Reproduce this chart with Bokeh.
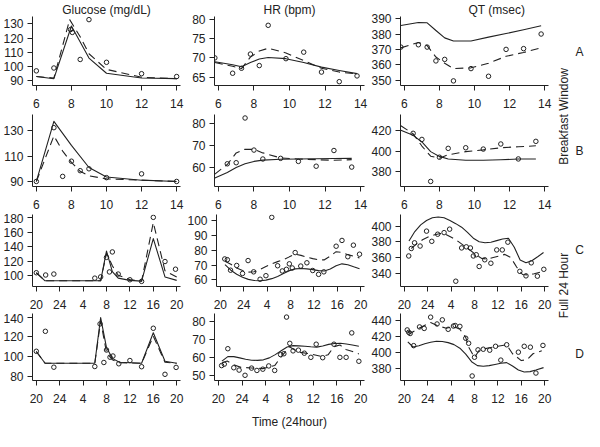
from bokeh.plotting import figure
from bokeh.models import Range1d, FixedTicker
from bokeh.layouts import row, column
from bokeh.embed import file_html
from bokeh.resources import INLINE
from bokeh.core.properties import value

FONT = "Liberation Sans"
INK = "#222222"

# ---------------- tick labels ----------------
bw_ticks = [6, 8, 10, 12, 14]
day_ticks = [20, 24, 28, 32, 36, 40, 44]
day_tick_labels = ["20", "24", "4", "8", "12", "16", "20"]

col_titles = ["Glucose (mg/dL)", "HR (bpm)", "QT (msec)"]
row_letters = ["A", "B", "C", "D"]
window_labels = ["Breakfast Window", "Full 24 Hour"]
x_title = "Time (24hour)"

# ---------------- Row A : breakfast window ----------------
glu_a_obs_x = [6, 7, 7.95, 8.05, 8.5, 9, 10, 12, 14]
glu_a_obs_y = [97, 99, 126, 124, 105, 133, 103, 95, 93]
glu_a_sol_x = [6, 7, 8, 9, 10, 12, 14]
glu_a_sol_y = [93, 91.5, 128.5, 106, 95.3, 92, 91.5]
glu_a_das_x = [6, 7, 7.9, 8.5, 9, 10, 12, 14]
glu_a_das_y = [93, 92, 133, 121, 109, 98, 92.5, 91.5]

hr_a_obs_x = [5.8, 6.8, 7.3, 7.8, 8.3, 8.8, 9.8, 10.8, 11.8, 12.8, 13.8]
hr_a_obs_y = [70, 66, 67.3, 71, 68, 78.5, 69.8, 71.5, 66.3, 63.8, 65.3]
hr_a_sol_x = [5.8, 6.8, 7.3, 7.8, 8.3, 8.8, 9.8, 10.8, 11.8, 12.8, 13.8]
hr_a_sol_y = [69, 68.2, 67.7, 68.8, 69.7, 70.1, 69.8, 68.8, 67.6, 66.7, 65.9]
hr_a_das_x = [5.8, 6.8, 7.3, 7.8, 8.3, 8.8, 9.8, 10.8, 11.8, 12.8, 13.8]
hr_a_das_y = [68.8, 67.8, 67.2, 70.2, 71.8, 72.5, 71.3, 69.3, 67.3, 66.3, 65.8]

qt_a_obs_x = [5.8, 6.8, 7.3, 7.8, 8.3, 8.8, 9.8, 10.8, 11.8, 12.8, 13.8]
qt_a_obs_y = [371.5, 373, 371.5, 362.5, 363.5, 349.5, 357.5, 352.5, 370, 370.5, 380]
qt_a_sol_x = [5.8, 6.8, 7.3, 7.8, 8.3, 8.8, 9.8, 10.8, 11.8, 12.8, 13.8]
qt_a_sol_y = [385.5, 387.5, 387.3, 382.3, 377.5, 375.5, 375.5, 378, 380.3, 382.8, 385.4]
qt_a_das_x = [5.8, 6.8, 7.3, 7.8, 8.3, 8.8, 9.8, 10.8, 11.8, 12.8, 13.8]
qt_a_das_y = [371, 374.5, 372.5, 365, 361, 357.5, 358, 361, 365.5, 368, 371]

# ---------------- Row B : breakfast window ----------------
glu_b_obs_x = [6, 7, 7.5, 8, 8.5, 9, 10, 12, 14]
glu_b_obs_y = [90, 132.5, 94, 106, 98.5, 100, 93, 96, 90]
glu_b_sol_x = [6, 7, 8, 9, 10, 12, 14]
glu_b_sol_y = [90, 137.5, 118.5, 101, 93.5, 91, 90]
glu_b_das_x = [6, 7, 7.5, 8, 8.5, 9, 10, 12, 14]
glu_b_das_y = [90, 126, 114, 105, 98, 94.5, 92, 91, 90]

hr_b_obs_x = [6.5, 7, 7.5, 8, 8.5, 9.5, 10.5, 11.5, 12.5, 13.5]
hr_b_obs_y = [61.5, 62, 82.5, 67.8, 63.7, 64, 62.6, 60.4, 67.6, 60]
hr_b_sol_x = [5.8, 6.5, 7, 7.5, 8, 8.5, 9.5, 10.5, 11.5, 12.5, 13.5]
hr_b_sol_y = [55, 57.5, 59.8, 61.5, 62.6, 63.2, 63.6, 63.7, 63.8, 63.9, 64]
hr_b_das_x = [5.8, 6.5, 7, 7.5, 8, 8.5, 9.5, 10.5, 11.5, 12.5, 13.5]
hr_b_das_y = [56.8, 61.2, 66.5, 68.2, 68.1, 66.5, 64.2, 63.7, 63.4, 63.1, 63.4]

qt_b_obs_x = [6.5, 7, 7.5, 8, 8.5, 9.5, 10.5, 11.5, 12.5, 13.5]
qt_b_obs_y = [417.5, 411.5, 370.2, 394, 402.7, 403.3, 402, 407, 392.3, 409.6]
qt_b_sol_x = [5.8, 6.5, 7, 7.5, 8, 8.5, 9.5, 10.5, 11.5, 12.5, 13.5]
qt_b_sol_y = [420.5, 415.5, 409, 399.5, 394.8, 392.3, 391, 391, 391.5, 392.2, 392.3]
qt_b_das_x = [5.8, 6.5, 7, 7.5, 8, 8.5, 9.5, 10.5, 11.5, 12.5, 13.5]
qt_b_das_y = [425, 417, 405, 395, 393, 396.4, 399.5, 401.2, 403.3, 404.3, 405.2]

# ---------------- Row C : full 24 hour (hours after 20:00 => 20..44) ----------------
glu_c_obs_x = [20, 21.6, 23, 30, 31, 32, 32.5, 33, 34, 36, 38, 40, 42, 43.8]
glu_c_obs_y = [104.4, 101.3, 102.6, 97, 98.7, 125.4, 105.5, 132.8, 102.6, 94.8, 92.6, 180, 119.7, 109.2]
glu_c_sol_x = [20, 21.5, 31, 32, 33, 34, 36, 38, 40, 42, 44]
glu_c_sol_y = [104.4, 93.4, 93.4, 134, 106, 97, 94, 93, 151, 98.7, 94]
glu_c_das_x = [20, 21.5, 31, 32, 33, 34, 36, 38, 40, 42, 44]
glu_c_das_y = [104.4, 93.4, 93.4, 131, 114, 101, 95, 93, 173, 107, 98.5]

hr_c_obs_x = [20.76, 21.2, 21.75, 22.8, 23.8, 24.75, 25.7, 26.8, 27.8, 28.8, 29.8, 30.6, 31.3,
              31.8, 32.3, 32.8, 33.75, 34.8, 35.8, 36.8, 37.7, 39.8, 40.8, 41.8, 42.75, 43.8]
hr_c_obs_y = [74.1, 73.6, 66.5, 69.7, 64.3, 73, 65.4, 60.4, 62.8, 102.2, 69.5, 66, 67.1,
              70.8, 68, 78.4, 69.3, 71.5, 66.3, 63.7, 65.4, 82.7, 86.6, 75.6, 83.4, 77.3]
hr_c_sol_x = [20.8, 21.8, 22.8, 23.8, 24.8, 25.8, 26.8, 27.8, 28.8, 29.8, 30.8, 31.8,
              32.8, 33.8, 34.8, 35.8, 36.8, 37.8, 38.8, 39.8, 40.8, 41.8, 42.8, 43.8]
hr_c_sol_y = [70.2, 66.5, 63.8, 61.8, 60.3, 59.6, 59.4, 59.8, 60.8, 62.3, 64.2, 66.2,
              67.4, 67.6, 67.4, 66.9, 66.2, 66, 67.3, 69.5, 70.8, 70.2, 68.8, 67.5]
hr_c_das_x = [20.8, 21.8, 22.8, 23.8, 24.8, 25.8, 26.8, 27.8, 28.8, 29.8, 30.8, 31.8,
              32.8, 33.8, 34.8, 35.8, 36.8, 37.8, 38.8, 39.8, 40.8, 41.8, 42.8, 43.8]
hr_c_das_y = [72.5, 70.5, 68, 66.3, 65.2, 65.5, 67, 69, 70.8, 72.3, 73.5, 75.5,
              77.3, 76.5, 75.3, 74.3, 73.5, 73.5, 76, 79, 78.5, 77, 76, 74.8]

qt_c_obs_x = [20.76, 21.2, 21.75, 22.7, 23.8, 24.7, 25.7, 26.8, 27.75, 28.8, 29.8, 30.6, 31.3,
              31.8, 32.3, 32.8, 33.75, 34.8, 35.8, 36.75, 37.7, 39.75, 40.8, 41.7, 42.75, 43.85]
qt_c_obs_y = [362, 371.5, 378.7, 374.6, 393.5, 380.6, 389.6, 391.6, 396, 330, 372.2, 373.6, 372.2,
              362, 363.6, 348.7, 357.2, 352.8, 369.7, 369.7, 379.5, 342.5, 336.8, 353.3, 336.4, 345.1]
qt_c_sol_x = [20.8, 21.8, 22.8, 23.8, 24.8, 25.8, 26.8, 27.8, 28.8, 29.8, 30.8, 31.8,
              32.8, 33.8, 34.8, 35.8, 36.8, 37.8, 38.8, 39.8, 40.8, 41.8, 42.8, 43.8]
qt_c_sol_y = [381, 393, 401.5, 407, 410.5, 411.5, 410.5, 407, 403, 398.5, 392, 384.5,
              380, 378.7, 379.5, 381.5, 383.5, 384.5, 373, 357, 353.5, 356, 361, 366.4]
qt_c_das_x = [21.2, 22.2, 23.2, 24.2, 25.2, 26.2, 27.2, 28.2, 29.2, 30.2, 31.2, 32.2,
              33.2, 34.2, 35.2, 36.2, 37.2, 38.2, 39.2, 40.2, 41.2, 42.2, 43.2, 43.8]
qt_c_das_y = [371.5, 378, 383, 386.5, 389, 390.5, 389, 385, 380.5, 375, 369.5, 364,
              359, 358, 360, 362, 364, 360, 348, 338.5, 338, 339.5, 341.5, 344.5]

# ---------------- Row D : full 24 hour ----------------
glu_d_obs_x = [20, 21.55, 23, 30, 30.9, 31.55, 32, 32.6, 33.1, 34.1, 36, 38, 40, 42, 43.9]
glu_d_obs_y = [105.2, 125.5, 89, 89.7, 133, 93.8, 106.5, 99.2, 100.4, 92.5, 95.8, 89.5, 128.6, 81.8, 88.8]
glu_d_sol_x = [20, 21.5, 30, 31, 32, 33, 34.2, 38, 40, 42, 44]
glu_d_sol_y = [105, 93, 93, 139.5, 109, 98, 94, 93, 124, 95, 93]
glu_d_das_x = [20, 21.5, 30, 31, 32, 33, 34.2, 38, 40, 42, 44]
glu_d_das_y = [105, 93, 93, 136, 104, 96.5, 93.5, 93, 120.5, 94, 93]

hr_d_obs_x = [20.55, 21, 21.6, 22.6, 23.5, 24.5, 25.6, 26.5, 27.5, 28.5, 29.5, 30.5, 31.05,
              31.5, 32.05, 32.6, 33.5, 34.5, 35.6, 36.5, 37.6, 39.5, 40.5, 41.55, 42.5, 43.7]
hr_d_obs_y = [55.5, 56.3, 64.9, 54.3, 53, 50.1, 54.1, 52.8, 53.5, 55.3, 52.8, 61.6, 62.1,
              82.5, 67.9, 63.7, 64.1, 62.4, 60.1, 67.4, 59.9, 67.4, 60.1, 60.1, 73.7, 57.9]
hr_d_sol_x = [20.6, 21.6, 22.6, 23.6, 24.6, 25.6, 26.6, 27.6, 28.6, 29.6, 30.6, 31.6,
              32.6, 33.6, 34.6, 35.6, 36.6, 37.6, 38.6, 39.6, 40.6, 41.6, 42.6, 43.7]
hr_d_sol_y = [58, 60.5, 60.5, 59.8, 59, 58.5, 58.4, 58.7, 59.8, 61.6, 63.8, 65.8,
              66.6, 66.5, 66.3, 66, 65.8, 66.4, 67.3, 67.8, 67.9, 67.5, 67, 66.3]
hr_d_das_x = [20.6, 21.5, 22.6, 23.8, 25.6, 27.5, 29.5, 30.5, 31.5, 32, 33.5, 35.5, 37.5,
              38.5, 39.5, 40.5, 41.5, 42.5, 43.7]
hr_d_das_y = [57, 58, 56, 54.5, 54.2, 53.8, 55.5, 60, 64, 66, 63, 62, 60.5,
              61.5, 66, 67, 64.5, 63.5, 62]

qt_d_obs_x = [20.5, 20.76, 21.0, 21.6, 22.6, 23.4, 24.5, 25.6, 26.5, 27.5, 28.4, 28.7, 29.5, 30.5,
              31.0, 31.6, 32.0, 32.6, 33.5, 34.6, 35.6, 36.5, 37.5, 39.5, 40.5, 41.55, 42.5, 43.7]
qt_d_obs_y = [428, 425, 423.5, 408.2, 431.8, 429.9, 444.1, 435.5, 440.7, 428.8, 432.9, 433.6, 432.5, 417.5,
              411.2, 370, 393.6, 402.9, 403.7, 402.5, 407.4, 390, 409.3, 400, 407.4, 406.3, 373.7, 408.5]
qt_d_sol_x = [20.6, 21.5, 22.5, 23.5, 24.5, 25.5, 26.5, 27.5, 28.5, 29.5, 30.5, 31.5,
              32.5, 33.5, 34.5, 35.5, 36.5, 37.5, 38.5, 39.5, 40.5, 41.5, 42.5, 43.8]
qt_d_sol_y = [413, 406.5, 408, 410.5, 412.5, 413.8, 413.5, 412, 409.5, 405, 397.5, 388,
              383, 382.3, 383, 384.5, 386, 386.8, 382.5, 377.5, 375, 375.5, 377.5, 380.5]
qt_d_das_x = [20.6, 21.0, 22.5, 24.5, 25.6, 27.2, 28.4, 29.5, 30.5, 31.0, 32.0, 32.8,
              34.5, 36.0, 37.5, 38.5, 40.0, 41.0, 42.0, 43.5]
qt_d_das_y = [426, 423.5, 430, 437.4, 433.6, 430, 432.5, 428.8, 418.7, 406.3, 393.2, 402.5,
              405.5, 407.4, 409.3, 398, 389.4, 390.6, 398, 401.8]

# ---------------- axis extents and y ticks ----------------
bw_xlim = (5.78, 14.22)
day_xlim = (19.35, 44.65)

glu_a_ylim, glu_a_yticks = (86.7, 135.2), [90, 100, 110, 120, 130]
hr_a_ylim, hr_a_yticks = (62.8, 80.8), [65, 70, 75, 80]
qt_a_ylim, qt_a_yticks = (346.5, 391.4), [350, 360, 370, 380, 390]
glu_b_ylim, glu_b_yticks = (86.0, 142.9), [90, 110, 130]
hr_b_ylim, hr_b_yticks = (51.1, 84.1), [60, 70, 80]
qt_b_ylim, qt_b_yticks = (365.2, 436.0), [380, 400, 420]
glu_c_ylim, glu_c_yticks = (85.6, 183.9), [100, 120, 140, 160, 180]
hr_c_ylim, hr_c_yticks = (55.5, 104.1), [60, 70, 80, 90, 100]
qt_c_ylim, qt_c_yticks = (323.3, 414.6), [340, 360, 380, 400]
glu_d_ylim, glu_d_yticks = (75.5, 143.6), [80, 100, 120, 140]
hr_d_ylim, hr_d_yticks = (47.2, 84.5), [50, 60, 70, 80]
qt_d_ylim, qt_d_yticks = (364.3, 448.7), [380, 400, 420, 440]

# ---------------- layout (px) ----------------
FIG_W = 184
ROW_H = [112, 101, 100, 118]
TOP_B = [14, 2, 1, 0]
BOT_B = [27, 27, 27, 46]
SIDE_W = 32
TOTAL_H = sum(ROW_H)


def style_axes(p, xticks, xoverrides, yticks):
    for ax in (p.xaxis[0], p.yaxis[0]):
        ax.axis_line_color = INK
        ax.axis_line_width = 1
        ax.major_tick_line_color = INK
        ax.major_tick_in = 0
        ax.major_tick_out = 5
        ax.minor_tick_line_color = None
        ax.major_label_text_font = FONT
        ax.major_label_text_font_size = "12px"
        ax.major_label_text_color = INK
    p.xaxis[0].ticker = FixedTicker(ticks=xticks)
    if xoverrides:
        p.xaxis[0].major_label_overrides = xoverrides
    p.xaxis[0].major_label_standoff = 8
    p.yaxis[0].ticker = FixedTicker(ticks=yticks)
    p.yaxis[0].major_label_standoff = 4
    p.xgrid.visible = False
    p.ygrid.visible = False


def make_panel(r, xlim, xticks, xoverrides, ylim, yticks, obs, sol, das):
    p = figure(width=FIG_W, height=ROW_H[r], output_backend="svg", toolbar_location=None,
               x_range=Range1d(*xlim), y_range=Range1d(*ylim),
               min_border_left=30, min_border_right=4,
               min_border_top=TOP_B[r], min_border_bottom=BOT_B[r])
    p.outline_line_color = None
    p.background_fill_color = "white"
    p.border_fill_color = "white"
    style_axes(p, xticks, xoverrides, yticks)
    p.line(sol[0], sol[1], line_color=INK, line_width=1.1, line_join="round")
    p.line(das[0], das[1], line_color=INK, line_width=1.1, line_dash="8 5", line_join="round")
    p.scatter(obs[0], obs[1], marker="circle", size=4.5, fill_color=None,
              line_color=INK, line_width=1)
    return p


day_over = {t: lab for t, lab in zip(day_ticks, day_tick_labels)}

panels = [
    [make_panel(0, bw_xlim, bw_ticks, None, glu_a_ylim, glu_a_yticks,
                (glu_a_obs_x, glu_a_obs_y), (glu_a_sol_x, glu_a_sol_y), (glu_a_das_x, glu_a_das_y)),
     make_panel(0, bw_xlim, bw_ticks, None, hr_a_ylim, hr_a_yticks,
                (hr_a_obs_x, hr_a_obs_y), (hr_a_sol_x, hr_a_sol_y), (hr_a_das_x, hr_a_das_y)),
     make_panel(0, bw_xlim, bw_ticks, None, qt_a_ylim, qt_a_yticks,
                (qt_a_obs_x, qt_a_obs_y), (qt_a_sol_x, qt_a_sol_y), (qt_a_das_x, qt_a_das_y))],
    [make_panel(1, bw_xlim, bw_ticks, None, glu_b_ylim, glu_b_yticks,
                (glu_b_obs_x, glu_b_obs_y), (glu_b_sol_x, glu_b_sol_y), (glu_b_das_x, glu_b_das_y)),
     make_panel(1, bw_xlim, bw_ticks, None, hr_b_ylim, hr_b_yticks,
                (hr_b_obs_x, hr_b_obs_y), (hr_b_sol_x, hr_b_sol_y), (hr_b_das_x, hr_b_das_y)),
     make_panel(1, bw_xlim, bw_ticks, None, qt_b_ylim, qt_b_yticks,
                (qt_b_obs_x, qt_b_obs_y), (qt_b_sol_x, qt_b_sol_y), (qt_b_das_x, qt_b_das_y))],
    [make_panel(2, day_xlim, day_ticks, day_over, glu_c_ylim, glu_c_yticks,
                (glu_c_obs_x, glu_c_obs_y), (glu_c_sol_x, glu_c_sol_y), (glu_c_das_x, glu_c_das_y)),
     make_panel(2, day_xlim, day_ticks, day_over, hr_c_ylim, hr_c_yticks,
                (hr_c_obs_x, hr_c_obs_y), (hr_c_sol_x, hr_c_sol_y), (hr_c_das_x, hr_c_das_y)),
     make_panel(2, day_xlim, day_ticks, day_over, qt_c_ylim, qt_c_yticks,
                (qt_c_obs_x, qt_c_obs_y), (qt_c_sol_x, qt_c_sol_y), (qt_c_das_x, qt_c_das_y))],
    [make_panel(3, day_xlim, day_ticks, day_over, glu_d_ylim, glu_d_yticks,
                (glu_d_obs_x, glu_d_obs_y), (glu_d_sol_x, glu_d_sol_y), (glu_d_das_x, glu_d_das_y)),
     make_panel(3, day_xlim, day_ticks, day_over, hr_d_ylim, hr_d_yticks,
                (hr_d_obs_x, hr_d_obs_y), (hr_d_sol_x, hr_d_sol_y), (hr_d_das_x, hr_d_das_y)),
     make_panel(3, day_xlim, day_ticks, day_over, qt_d_ylim, qt_d_yticks,
                (qt_d_obs_x, qt_d_obs_y), (qt_d_sol_x, qt_d_sol_y), (qt_d_das_x, qt_d_das_y))],
]

# column titles
for j, txt in enumerate(col_titles):
    t = panels[0][j].title
    t.text = txt
    t.text_font = FONT
    t.text_font_size = "12px"
    t.text_font_style = "normal"
    t.text_color = INK
    t.standoff = 0
    if j < 2:
        t.align = "center"
    else:
        t.align = "left"
        t.offset = 68

# bottom axis title
mid = panels[3][1].xaxis[0]
mid.axis_label = x_title
mid.axis_label_text_font = FONT
mid.axis_label_text_font_size = "12px"
mid.axis_label_text_font_style = "normal"
mid.axis_label_text_color = INK
mid.axis_label_standoff = 9

# side strip with row labels
side = figure(width=SIDE_W, height=TOTAL_H, output_backend="svg", toolbar_location=None,
              x_range=Range1d(0, SIDE_W), y_range=Range1d(0, TOTAL_H),
              x_axis_location=None, y_axis_location=None,
              min_border_left=0, min_border_right=0, min_border_top=0, min_border_bottom=0)
side.outline_line_color = None
side.xgrid.visible = False
side.ygrid.visible = False
side.border_fill_color = "white"
side.background_fill_color = "white"

letter_x = [27, 27, 27, 27]
letter_y = [TOTAL_H - 51, TOTAL_H - 150, TOTAL_H - 249, TOTAL_H - 353]
side.text(x=letter_x, y=letter_y, text=row_letters, text_align="center",
          text_baseline="middle", text_font=value(FONT), text_font_size="12px", text_color=INK)
side.text(x=[11.8, 11.8], y=[TOTAL_H - 116, TOTAL_H - 285], text=window_labels,
          angle=1.5707963, text_align="center", text_baseline="middle",
          text_font=value(FONT), text_font_size="12px", text_color=INK)

grid = column(*[row(*r) for r in panels])
layout = row(grid, side)

open("out.html", "w").write(file_html(layout, INLINE))
